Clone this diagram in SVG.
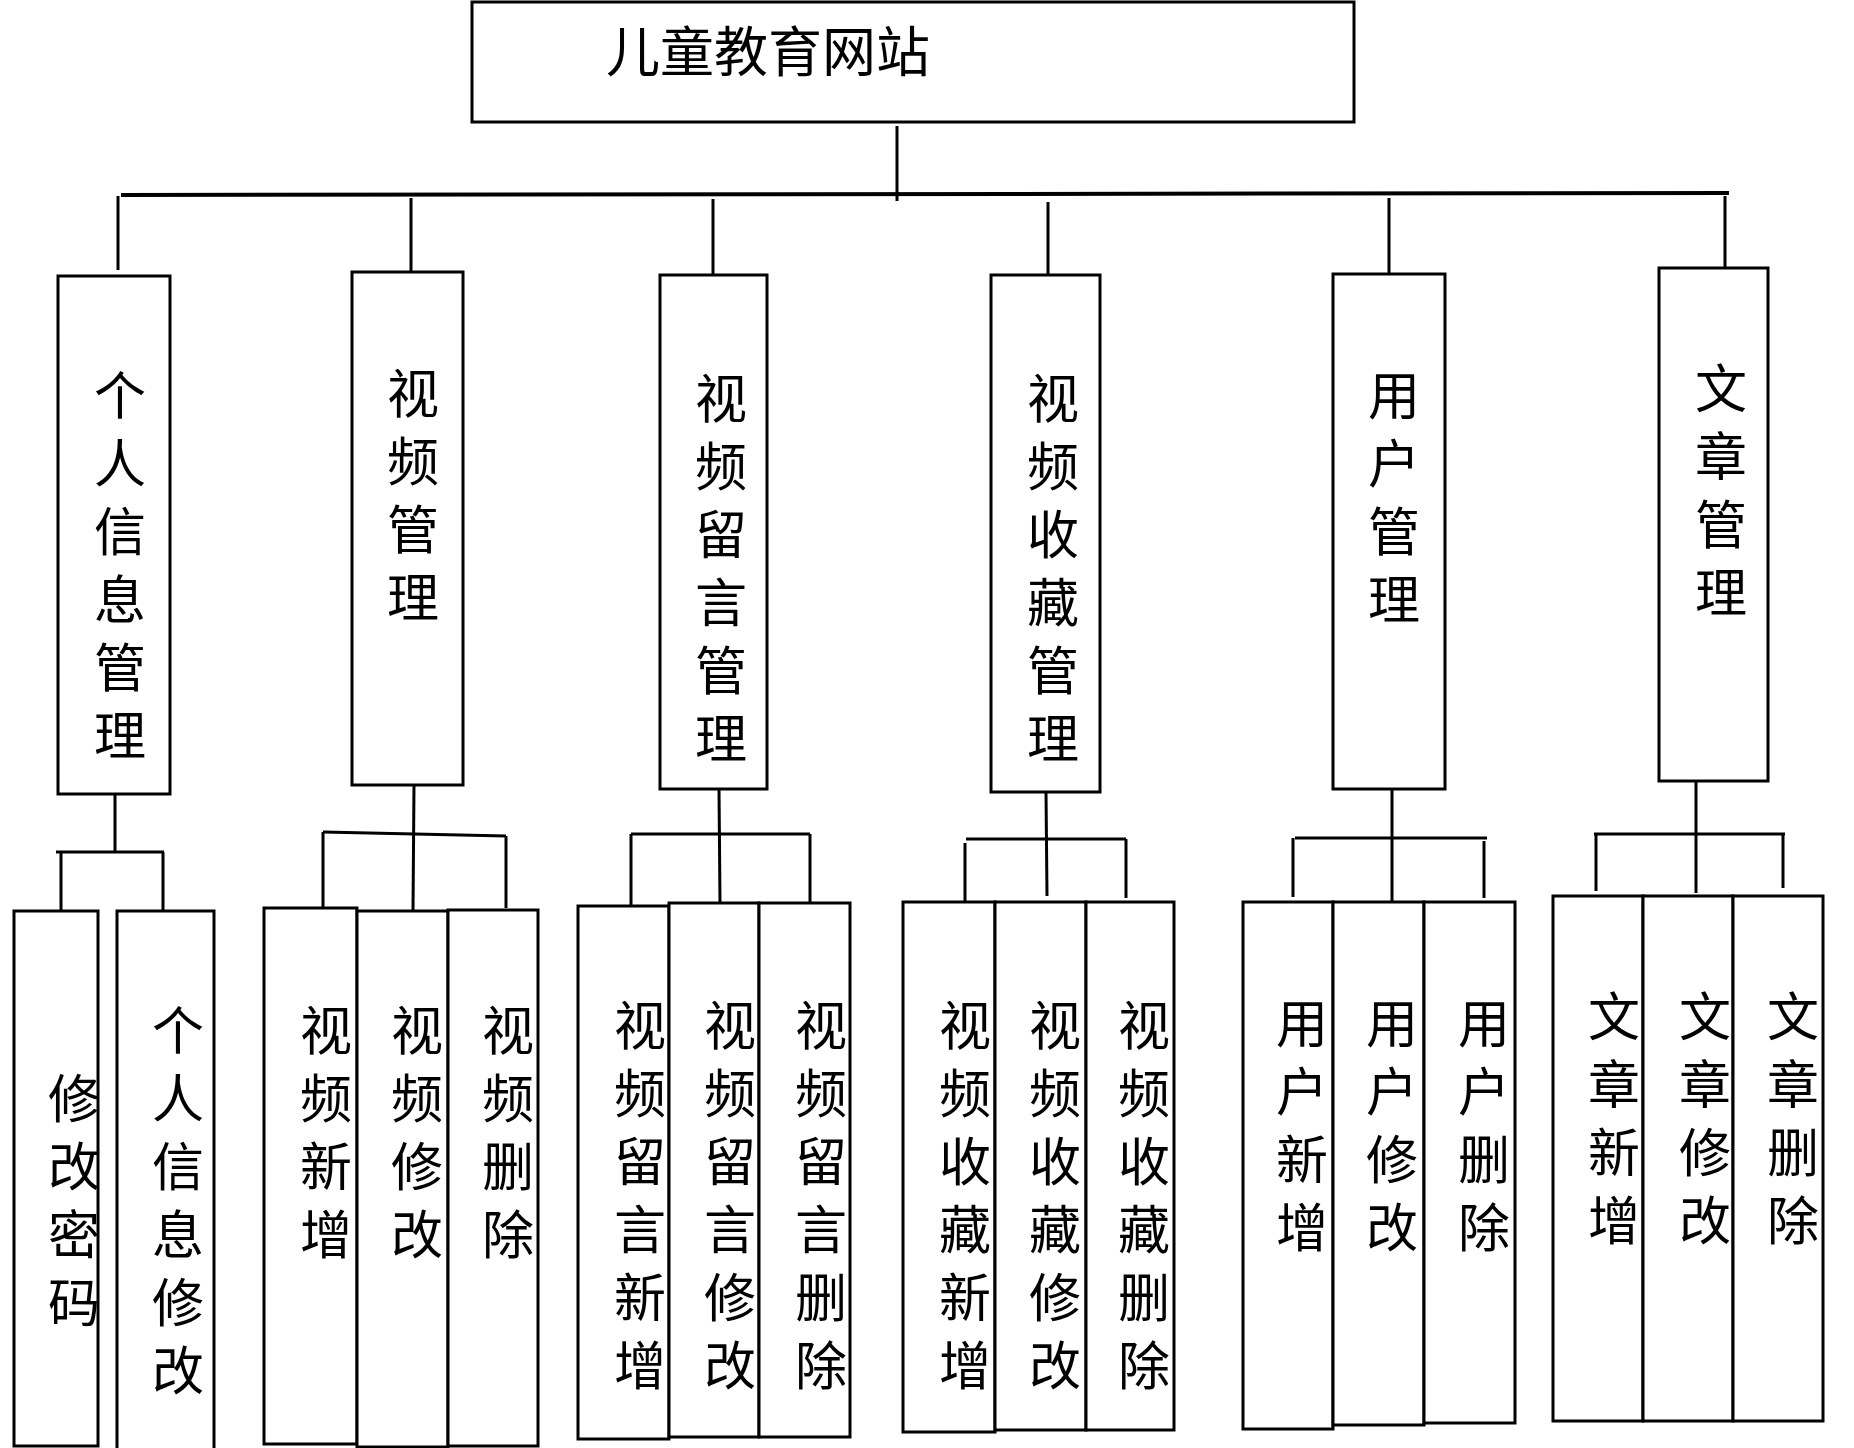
<svg xmlns="http://www.w3.org/2000/svg" width="1854" height="1448" viewBox="0 0 1854 1448">
<style>
.box{fill:#fff;stroke:#000;stroke-width:3}
.ln{fill:none;stroke:#000;stroke-width:3;stroke-linecap:butt}
.t{font-family:"Noto Sans CJK SC","Noto Sans CJK JP",sans-serif;font-size:52px;fill:#000;text-anchor:middle}
.title{font-family:"Noto Sans CJK SC","Noto Sans CJK JP",sans-serif;font-size:54px;fill:#000}
</style>
<rect width="1854" height="1448" fill="#fff"/>
<g id="connectors">
<line class="ln" x1="897" y1="126" x2="897" y2="201"/>
<line class="ln" x1="121" y1="195" x2="1729" y2="193" style="stroke-width:4"/>
<line class="ln" x1="118" y1="196" x2="118" y2="270"/>
<line class="ln" x1="411" y1="198" x2="411" y2="272"/>
<line class="ln" x1="713" y1="199" x2="713" y2="274"/>
<line class="ln" x1="1048" y1="202" x2="1048" y2="275"/>
<line class="ln" x1="1389" y1="198" x2="1389" y2="274"/>
<line class="ln" x1="1725" y1="196" x2="1725" y2="268"/>
<line class="ln" x1="115" y1="794" x2="115" y2="852"/>
<line class="ln" x1="56" y1="852" x2="164" y2="852"/>
<line class="ln" x1="61" y1="852" x2="61" y2="911"/>
<line class="ln" x1="163" y1="852" x2="163" y2="913"/>
<line class="ln" x1="414" y1="785" x2="413" y2="910"/>
<line class="ln" x1="323" y1="832" x2="506" y2="836"/>
<line class="ln" x1="323" y1="832" x2="323" y2="908"/>
<line class="ln" x1="506" y1="836" x2="506" y2="908"/>
<line class="ln" x1="719" y1="789" x2="720" y2="903"/>
<line class="ln" x1="631" y1="834" x2="810" y2="834"/>
<line class="ln" x1="631" y1="834" x2="631" y2="905"/>
<line class="ln" x1="810" y1="834" x2="810" y2="903"/>
<line class="ln" x1="1046" y1="792" x2="1047" y2="896"/>
<line class="ln" x1="966" y1="839" x2="1126" y2="839"/>
<line class="ln" x1="965" y1="843" x2="965" y2="902"/>
<line class="ln" x1="1126" y1="839" x2="1126" y2="898"/>
<line class="ln" x1="1392" y1="789" x2="1392" y2="902"/>
<line class="ln" x1="1295" y1="838" x2="1487" y2="838"/>
<line class="ln" x1="1293" y1="838" x2="1293" y2="897"/>
<line class="ln" x1="1484" y1="841" x2="1484" y2="898"/>
<line class="ln" x1="1696" y1="781" x2="1696" y2="893"/>
<line class="ln" x1="1594" y1="834" x2="1785" y2="834"/>
<line class="ln" x1="1596" y1="834" x2="1596" y2="891"/>
<line class="ln" x1="1783" y1="834" x2="1783" y2="888"/>
</g>
<g id="root"><rect class="box" x="472" y="2" width="882" height="120"/><text class="title" x="606" y="72">儿童教育网站</text></g>
<g id="n1"><rect class="box" x="58" y="276" width="112" height="518"/><text class="t" y="415"><tspan x="120">个</tspan><tspan x="120" dy="68">人</tspan><tspan x="120" dy="68">信</tspan><tspan x="120" dy="68">息</tspan><tspan x="120" dy="68">管</tspan><tspan x="120" dy="68">理</tspan></text></g>
<g id="n2"><rect class="box" x="352" y="272" width="111" height="513"/><text class="t" y="413"><tspan x="413">视</tspan><tspan x="413" dy="68">频</tspan><tspan x="413" dy="68">管</tspan><tspan x="413" dy="68">理</tspan></text></g>
<g id="n3"><rect class="box" x="660" y="275" width="107" height="514"/><text class="t" y="418"><tspan x="721">视</tspan><tspan x="721" dy="68">频</tspan><tspan x="721" dy="68">留</tspan><tspan x="721" dy="68">言</tspan><tspan x="721" dy="68">管</tspan><tspan x="721" dy="68">理</tspan></text></g>
<g id="n4"><rect class="box" x="991" y="275" width="109" height="517"/><text class="t" y="418"><tspan x="1053">视</tspan><tspan x="1053" dy="68">频</tspan><tspan x="1053" dy="68">收</tspan><tspan x="1053" dy="68">藏</tspan><tspan x="1053" dy="68">管</tspan><tspan x="1053" dy="68">理</tspan></text></g>
<g id="n5"><rect class="box" x="1333" y="274" width="112" height="515"/><text class="t" y="415"><tspan x="1394">用</tspan><tspan x="1394" dy="68">户</tspan><tspan x="1394" dy="68">管</tspan><tspan x="1394" dy="68">理</tspan></text></g>
<g id="n6"><rect class="box" x="1659" y="268" width="109" height="513"/><text class="t" y="408"><tspan x="1721">文</tspan><tspan x="1721" dy="68">章</tspan><tspan x="1721" dy="68">管</tspan><tspan x="1721" dy="68">理</tspan></text></g>
<g id="n1a"><rect class="box" x="14" y="911" width="84" height="535"/><text class="t" y="1118"><tspan x="74">修</tspan><tspan x="74" dy="68">改</tspan><tspan x="74" dy="68">密</tspan><tspan x="74" dy="68">码</tspan></text></g>
<g id="n1b"><rect class="box" x="117" y="911" width="97" height="545"/><text class="t" y="1050"><tspan x="178">个</tspan><tspan x="178" dy="68">人</tspan><tspan x="178" dy="68">信</tspan><tspan x="178" dy="68">息</tspan><tspan x="178" dy="68">修</tspan><tspan x="178" dy="68">改</tspan></text></g>
<g id="n2a"><rect class="box" x="264" y="908" width="93" height="536"/><text class="t" y="1050"><tspan x="326">视</tspan><tspan x="326" dy="68">频</tspan><tspan x="326" dy="68">新</tspan><tspan x="326" dy="68">增</tspan></text></g>
<g id="n2b"><rect class="box" x="357" y="911" width="91" height="536"/><text class="t" y="1050"><tspan x="417">视</tspan><tspan x="417" dy="68">频</tspan><tspan x="417" dy="68">修</tspan><tspan x="417" dy="68">改</tspan></text></g>
<g id="n2c"><rect class="box" x="448" y="910" width="90" height="536"/><text class="t" y="1050"><tspan x="508">视</tspan><tspan x="508" dy="68">频</tspan><tspan x="508" dy="68">删</tspan><tspan x="508" dy="68">除</tspan></text></g>
<g id="n3a"><rect class="box" x="578" y="906" width="91" height="533"/><text class="t" y="1045"><tspan x="640">视</tspan><tspan x="640" dy="68">频</tspan><tspan x="640" dy="68">留</tspan><tspan x="640" dy="68">言</tspan><tspan x="640" dy="68">新</tspan><tspan x="640" dy="68">增</tspan></text></g>
<g id="n3b"><rect class="box" x="669" y="903" width="90" height="534"/><text class="t" y="1045"><tspan x="730">视</tspan><tspan x="730" dy="68">频</tspan><tspan x="730" dy="68">留</tspan><tspan x="730" dy="68">言</tspan><tspan x="730" dy="68">修</tspan><tspan x="730" dy="68">改</tspan></text></g>
<g id="n3c"><rect class="box" x="759" y="903" width="91" height="534"/><text class="t" y="1045"><tspan x="821">视</tspan><tspan x="821" dy="68">频</tspan><tspan x="821" dy="68">留</tspan><tspan x="821" dy="68">言</tspan><tspan x="821" dy="68">删</tspan><tspan x="821" dy="68">除</tspan></text></g>
<g id="n4a"><rect class="box" x="903" y="902" width="92" height="530"/><text class="t" y="1045"><tspan x="965">视</tspan><tspan x="965" dy="68">频</tspan><tspan x="965" dy="68">收</tspan><tspan x="965" dy="68">藏</tspan><tspan x="965" dy="68">新</tspan><tspan x="965" dy="68">增</tspan></text></g>
<g id="n4b"><rect class="box" x="995" y="902" width="91" height="528"/><text class="t" y="1045"><tspan x="1055">视</tspan><tspan x="1055" dy="68">频</tspan><tspan x="1055" dy="68">收</tspan><tspan x="1055" dy="68">藏</tspan><tspan x="1055" dy="68">修</tspan><tspan x="1055" dy="68">改</tspan></text></g>
<g id="n4c"><rect class="box" x="1086" y="902" width="88" height="528"/><text class="t" y="1045"><tspan x="1144">视</tspan><tspan x="1144" dy="68">频</tspan><tspan x="1144" dy="68">收</tspan><tspan x="1144" dy="68">藏</tspan><tspan x="1144" dy="68">删</tspan><tspan x="1144" dy="68">除</tspan></text></g>
<g id="n5a"><rect class="box" x="1243" y="902" width="90" height="527"/><text class="t" y="1043"><tspan x="1302">用</tspan><tspan x="1302" dy="68">户</tspan><tspan x="1302" dy="68">新</tspan><tspan x="1302" dy="68">增</tspan></text></g>
<g id="n5b"><rect class="box" x="1333" y="902" width="91" height="523"/><text class="t" y="1043"><tspan x="1392">用</tspan><tspan x="1392" dy="68">户</tspan><tspan x="1392" dy="68">修</tspan><tspan x="1392" dy="68">改</tspan></text></g>
<g id="n5c"><rect class="box" x="1424" y="902" width="91" height="521"/><text class="t" y="1043"><tspan x="1484">用</tspan><tspan x="1484" dy="68">户</tspan><tspan x="1484" dy="68">删</tspan><tspan x="1484" dy="68">除</tspan></text></g>
<g id="n6a"><rect class="box" x="1553" y="896" width="90" height="525"/><text class="t" y="1036"><tspan x="1614">文</tspan><tspan x="1614" dy="68">章</tspan><tspan x="1614" dy="68">新</tspan><tspan x="1614" dy="68">增</tspan></text></g>
<g id="n6b"><rect class="box" x="1643" y="896" width="90" height="525"/><text class="t" y="1036"><tspan x="1705">文</tspan><tspan x="1705" dy="68">章</tspan><tspan x="1705" dy="68">修</tspan><tspan x="1705" dy="68">改</tspan></text></g>
<g id="n6c"><rect class="box" x="1733" y="896" width="90" height="525"/><text class="t" y="1036"><tspan x="1793">文</tspan><tspan x="1793" dy="68">章</tspan><tspan x="1793" dy="68">删</tspan><tspan x="1793" dy="68">除</tspan></text></g>
</svg>
